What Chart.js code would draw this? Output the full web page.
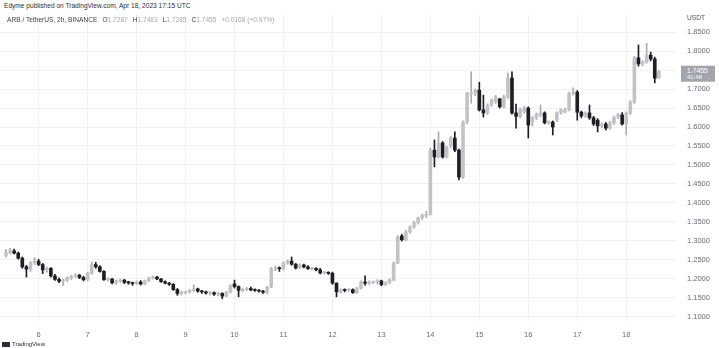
<!DOCTYPE html>
<html><head><meta charset="utf-8">
<script src="https://cdn.jsdelivr.net/npm/chart.js@4.4.0/dist/chart.umd.min.js"></script>
<style>
html,body{margin:0;padding:0;background:#fff;width:719px;height:348px;overflow:hidden;font-family:"Liberation Sans",Arial,sans-serif;}
#wrap{position:absolute;left:0;top:14px;width:719px;height:334px;}
.t{position:absolute;white-space:nowrap;line-height:1;}
.v{color:#a8a8a8;}
.g{display:inline-block;width:5px;}
</style></head><body>
<div id="wrap"><canvas id="c"></canvas></div>
<div class="t" style="left:4px;top:3px;font-size:6.6px;color:#2a2e39">Edyme published on TradingView.com, Apr 18, 2023 17:15 UTC</div>
<div class="t" style="left:7px;top:17px;font-size:6.6px;color:#3b3f4a">ARB / TetherUS, 2h, BINANCE<span class="g"></span>O<span class="v">1.7287</span><span class="g"></span>H<span class="v">1.7483</span><span class="g"></span>L<span class="v">1.7285</span><span class="g"></span>C<span class="v">1.7455</span><span class="g"></span><span class="v">+0.0168 (+0.97%)</span></div>
<div class="t" style="left:687px;top:15px;font-size:6.6px;color:#50535e">USDT</div>
<div class="t" style="left:2px;top:341px;font-size:6px;color:#2a2e39"><span style="display:inline-block;width:8px;height:5px;background:#2a2e39;margin-right:2px;vertical-align:-0.5px"></span>TradingView</div>
<script>
// ARB/USDT 2h candles, Apr 5 08:00 -> Apr 18 16:00 UTC
const opens = [
1.262,1.270,1.274,1.268,1.255,1.232,1.226,1.243,1.247,1.238,1.224,1.228,1.208,1.199,1.194,1.197,1.203,1.208,1.210,1.204,
1.198,1.215,1.238,1.232,1.220,1.198,1.200,1.190,1.195,1.197,1.191,1.190,1.188,1.192,1.187,1.195,1.203,1.205,1.200,1.193,
1.189,1.186,1.172,1.162,1.165,1.166,1.170,1.174,1.168,1.166,1.163,1.164,1.160,1.162,1.155,1.165,1.187,1.180,1.170,1.172,
1.175,1.171,1.170,1.168,1.165,1.179,1.226,1.229,1.227,1.242,1.247,1.239,1.229,1.237,1.232,1.227,1.228,1.224,1.216,1.217,
1.215,1.189,1.166,1.171,1.170,1.172,1.164,1.176,1.192,1.189,1.191,1.192,1.195,1.185,1.190,1.197,1.242,1.313,1.303,1.324,
1.337,1.348,1.361,1.366,1.370,1.539,1.521,1.558,1.521,1.550,1.571,1.539,1.468,1.613,1.686,1.690,1.697,1.645,1.637,1.658,
1.666,1.674,1.653,1.679,1.729,1.637,1.628,1.640,1.650,1.612,1.624,1.630,1.637,1.611,1.613,1.618,1.637,1.640,1.645,1.689,
1.692,1.639,1.629,1.637,1.624,1.618,1.603,1.608,1.597,1.611,1.626,1.632,1.608,1.637,1.666,1.782,1.766,1.771,1.789,1.779,
1.7287];
const highs = [
1.278,1.281,1.279,1.271,1.258,1.236,1.246,1.256,1.252,1.241,1.232,1.230,1.212,1.203,1.200,1.206,1.210,1.214,1.212,1.207,
1.218,1.245,1.244,1.235,1.222,1.203,1.202,1.197,1.200,1.199,1.194,1.192,1.195,1.196,1.197,1.205,1.208,1.207,1.202,1.195,
1.191,1.188,1.175,1.168,1.168,1.173,1.185,1.176,1.170,1.168,1.167,1.166,1.165,1.164,1.168,1.186,1.197,1.182,1.176,1.178,
1.179,1.174,1.172,1.170,1.181,1.230,1.234,1.232,1.245,1.250,1.258,1.241,1.240,1.239,1.235,1.231,1.230,1.228,1.220,1.219,
1.218,1.190,1.174,1.174,1.175,1.174,1.178,1.195,1.208,1.195,1.195,1.198,1.197,1.193,1.200,1.245,1.314,1.318,1.328,1.340,
1.352,1.363,1.371,1.378,1.545,1.566,1.587,1.562,1.550,1.575,1.587,1.542,1.616,1.692,1.745,1.700,1.718,1.684,1.661,1.674,
1.683,1.675,1.684,1.742,1.745,1.660,1.650,1.654,1.653,1.628,1.637,1.658,1.640,1.616,1.616,1.640,1.648,1.650,1.692,1.703,
1.696,1.642,1.640,1.658,1.628,1.622,1.611,1.612,1.615,1.629,1.636,1.638,1.640,1.669,1.786,1.816,1.775,1.820,1.797,1.784,
1.7483];
const lows = [
1.258,1.266,1.266,1.252,1.228,1.205,1.220,1.238,1.235,1.214,1.218,1.205,1.196,1.190,1.183,1.193,1.199,1.204,1.201,1.195,
1.195,1.212,1.228,1.218,1.196,1.194,1.187,1.186,1.191,1.188,1.186,1.183,1.185,1.184,1.185,1.193,1.200,1.198,1.191,1.187,
1.183,1.170,1.157,1.158,1.160,1.163,1.167,1.165,1.162,1.160,1.159,1.157,1.156,1.148,1.153,1.163,1.176,1.153,1.166,1.169,
1.169,1.167,1.165,1.162,1.161,1.177,1.222,1.220,1.224,1.239,1.236,1.226,1.227,1.229,1.225,1.224,1.221,1.213,1.213,1.212,
1.186,1.153,1.163,1.166,1.167,1.162,1.162,1.174,1.184,1.186,1.188,1.187,1.182,1.183,1.188,1.195,1.240,1.300,1.300,1.320,
1.333,1.344,1.356,1.362,1.368,1.495,1.518,1.518,1.518,1.546,1.535,1.461,1.465,1.608,1.663,1.682,1.642,1.626,1.633,1.654,
1.662,1.650,1.650,1.675,1.634,1.597,1.624,1.636,1.571,1.603,1.620,1.627,1.608,1.607,1.579,1.614,1.634,1.637,1.642,1.684,
1.618,1.624,1.625,1.620,1.604,1.587,1.598,1.592,1.594,1.607,1.622,1.605,1.579,1.633,1.662,1.760,1.761,1.768,1.774,1.716,
1.7285];
const closes = [
1.270,1.274,1.268,1.255,1.232,1.226,1.243,1.247,1.238,1.224,1.228,1.208,1.199,1.194,1.197,1.203,1.208,1.210,1.204,1.198,
1.215,1.238,1.232,1.220,1.198,1.200,1.190,1.195,1.197,1.191,1.190,1.188,1.192,1.187,1.195,1.203,1.205,1.200,1.193,1.189,
1.186,1.172,1.162,1.165,1.166,1.170,1.174,1.168,1.166,1.163,1.164,1.160,1.162,1.155,1.165,1.183,1.180,1.170,1.172,1.175,
1.171,1.170,1.168,1.165,1.179,1.226,1.229,1.227,1.242,1.247,1.239,1.229,1.237,1.232,1.227,1.228,1.224,1.216,1.217,1.215,
1.189,1.166,1.171,1.170,1.172,1.164,1.176,1.192,1.189,1.191,1.192,1.195,1.185,1.190,1.197,1.242,1.311,1.303,1.324,1.337,
1.348,1.361,1.368,1.370,1.539,1.521,1.558,1.521,1.547,1.571,1.539,1.468,1.613,1.689,1.690,1.697,1.645,1.637,1.658,1.671,
1.679,1.653,1.679,1.729,1.637,1.628,1.645,1.650,1.605,1.624,1.634,1.637,1.611,1.613,1.600,1.637,1.645,1.645,1.689,1.692,
1.639,1.629,1.637,1.624,1.608,1.603,1.608,1.597,1.611,1.626,1.632,1.608,1.637,1.666,1.782,1.766,1.771,1.789,1.779,1.7287,
1.7455];
const dayLabels = ['6','7','8','9','10','11','12','13','14','15','16','17','18'];
const firstDayIndex = 8;      // candle index of Apr 6 00:00
const candlesPerDay = 12;     // 2h candles
const priceTicksStep = 0.05;
const lastPrice = 1.7455;
const countdown = '41:48';

const UP_BODY = '#c2c3c7', UP_WICK = '#a9abb0', DN_BODY = '#1e1f24', DN_WICK = '#1e1f24';
const isUp = closes.map((c, i) => c >= opens[i]);
const bodyData = closes.map((c, i) => ({x: i, y: [opens[i], c]}));
const wickData = closes.map((c, i) => ({x: i, y: [lows[i], highs[i]]}));

const priceBox = {
  id: 'priceBox',
  afterDraw(chart) {
    const ctx = chart.ctx, y = chart.scales.y.getPixelForValue(lastPrice);
    ctx.save();
    ctx.fillStyle = '#a3a5ad';
    ctx.fillRect(681, y - 6, 34, 16);
    ctx.fillStyle = '#ffffff';
    ctx.font = '6.8px "Liberation Sans", Arial, sans-serif';
    ctx.textBaseline = 'middle';
    ctx.textAlign = 'left';
    ctx.fillText(lastPrice.toFixed(4), 687, y - 1);
    ctx.font = '6px "Liberation Sans", Arial, sans-serif';
    ctx.fillText(countdown, 687, y + 6);
    ctx.restore();
  }
};

new Chart(document.getElementById('c'), {
  type: 'bar',
  data: {
    datasets: [
      { label: 'body', data: bodyData, grouped: false, barThickness: 3, minBarLength: 1,
        backgroundColor: isUp.map(u => u ? UP_BODY : DN_BODY), borderWidth: 0, order: 0 },
      { label: 'wick', data: wickData, grouped: false, barThickness: 1, minBarLength: 1,
        backgroundColor: isUp.map(u => u ? UP_WICK : DN_WICK), borderWidth: 0, order: 1 }
    ]
  },
  options: {
    responsive: true, maintainAspectRatio: false, animation: false,
    layout: { padding: 0 },
    plugins: { legend: { display: false }, tooltip: { enabled: false } },
    scales: {
      x: {
        type: 'linear', min: -1.47, max: 164.2, offset: false,
        afterBuildTicks: s => { s.ticks = dayLabels.map((_, k) => ({ value: firstDayIndex + k * candlesPerDay })); },
        afterFit: s => { s.height = 26; s.paddingLeft = 0; s.paddingRight = 0; },
        grid: { color: '#f0f1f4', drawTicks: false, lineWidth: 1, offset: false },
        border: { display: false },
        ticks: {
          autoSkip: false, maxRotation: 0, padding: 8, color: '#6a6d78',
          font: { size: 7.5, family: '"Liberation Sans", Arial, sans-serif' },
          callback: v => dayLabels[Math.round((v - firstDayIndex) / candlesPerDay)]
        }
      },
      y: {
        position: 'right', min: 1.0868, max: 1.8974,
        afterFit: s => { s.width = 43; s.paddingTop = 0; s.paddingBottom = 0; },
        grid: { color: '#f0f1f4', drawTicks: false },
        border: { display: false },
        ticks: {
          stepSize: priceTicksStep, includeBounds: false, padding: 11, color: '#6a6d78',
          font: { size: 7.5, family: '"Liberation Sans", Arial, sans-serif' },
          callback: v => v.toFixed(4)
        }
      }
    }
  },
  plugins: [priceBox]
});
</script>
</body></html>
